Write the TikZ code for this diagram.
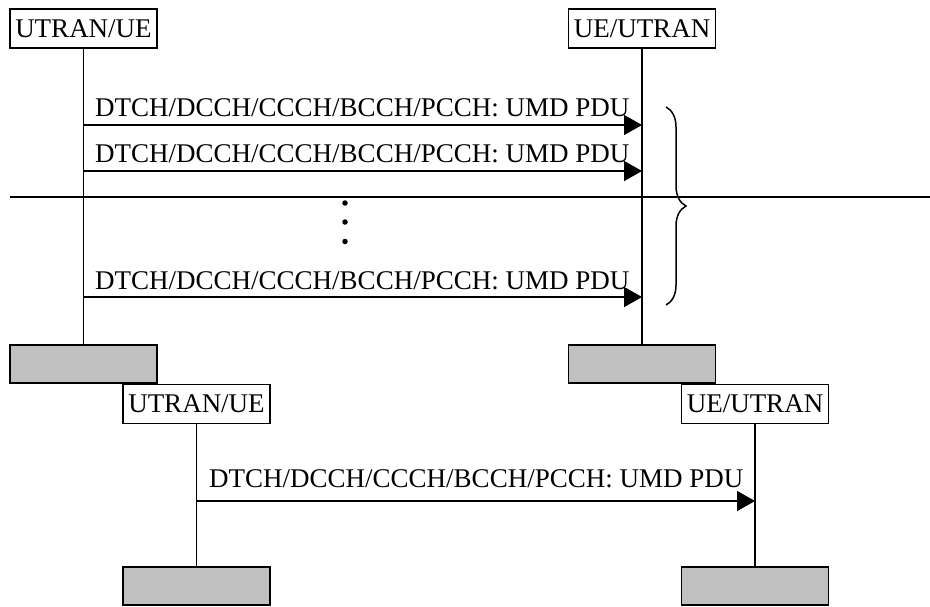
\documentclass[tikz,border=0pt]{standalone}
\usepackage{fontspec}
\setmainfont{Liberation Serif}
\usetikzlibrary{arrows.meta,decorations.pathreplacing}
\definecolor{blockgray}{HTML}{C0C0C0}
\begin{document}
\begin{tikzpicture}[x=1pt,y=-1pt,
  every node/.style={font=\fontsize{27}{32}\selectfont},
  entity/.style={draw, line width=1.6pt, fill=white, minimum width=147pt, minimum height=39pt, inner sep=0pt},
  endblock/.style={draw, line width=1.6pt, fill=blockgray, minimum width=147pt, minimum height=38pt, inner sep=0pt},
  lifeline/.style={line width=1.6pt},
  msg/.style={line width=1.6pt, -{Triangle[length=18pt,width=20pt]}},
  msglabel/.style={anchor=base west, inner sep=0pt},
  dot/.style={circle, fill=black, inner sep=0pt, minimum size=5.5pt}]
\useasboundingbox (0,0) rectangle (930,606);

% upper sequence
\node[entity] (a1) at (83.5,28.5) {UTRAN/UE};
\node[entity] (b1) at (642,28.5) {UE/UTRAN};
\node[endblock] (ea1) at (83.5,364) {};
\node[endblock] (eb1) at (642,364) {};
\draw[lifeline] (a1.south) -- (ea1.north);
\draw[lifeline] (b1.south) -- (eb1.north);

\coordinate (s1) at (83.5,125);
\coordinate (t1) at (642,125);
\coordinate (s2) at (83.5,171);
\coordinate (t2) at (642,171);
\coordinate (s3) at (83.5,297);
\coordinate (t3) at (642,297);
\draw[msg] (s1) -- (t1);
\draw[msg] (s2) -- (t2);
\draw[msg] (s3) -- (t3);
\node[msglabel] (l1) at (95,116) {DTCH/DCCH/CCCH/BCCH/PCCH: UMD PDU};
\node[msglabel] (l2) at (95,162) {DTCH/DCCH/CCCH/BCCH/PCCH: UMD PDU};
\node[msglabel] (l3) at (95,289) {DTCH/DCCH/CCCH/BCCH/PCCH: UMD PDU};

% separator and continuation dots
\coordinate (sepL) at (10,197);
\coordinate (sepR) at (930,197);
\draw[line width=2.4pt] (sepL) -- (sepR);
\node[dot] (d1) at (345,203) {};
\node[dot] (d2) at (345,222) {};
\node[dot] (d3) at (345,241.5) {};

% brace grouping the repeated PDUs
\coordinate (brT) at (666,107);
\coordinate (brB) at (666,305);
\draw[line width=1.5pt, decoration={brace, amplitude=20pt}, decorate] (brT) -- (brB);

% lower sequence
\node[entity] (a2) at (196.5,404) {UTRAN/UE};
\node[entity] (b2) at (755,404) {UE/UTRAN};
\node[endblock] (ea2) at (196.5,586) {};
\node[endblock] (eb2) at (755,586) {};
\draw[lifeline] (a2.south) -- (ea2.north);
\draw[lifeline] (b2.south) -- (eb2.north);
\coordinate (s4) at (196.5,501);
\coordinate (t4) at (755,501);
\draw[msg] (s4) -- (t4);
\node[msglabel] (l4) at (209,487) {DTCH/DCCH/CCCH/BCCH/PCCH: UMD PDU};
\end{tikzpicture}
\end{document}
